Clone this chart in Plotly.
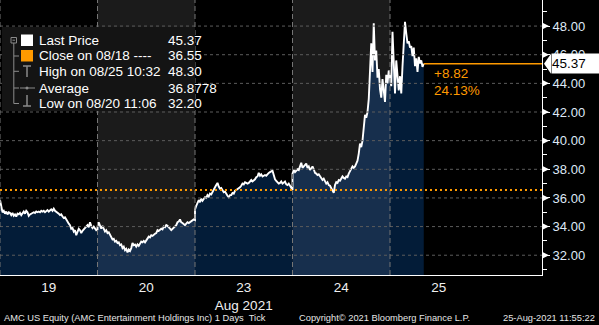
import plotly.graph_objects as go

# ---------------- data ----------------
day_labels = ["19", "20", "23", "24", "25"]
month_label = "Aug 2021"

# 5-minute samples of AMC tick price, session 09:30-16:00 (day 25 partial)
aug19 = [35.86, 35.3, 35.0, 35.1, 34.9, 35.05, 34.85, 35.0, 34.95, 34.8,
         34.95, 34.75, 34.85, 34.7, 34.9, 34.85, 34.95, 34.8, 34.9, 35.05,
         34.9, 35.1, 35.0, 34.75, 34.85, 34.9, 34.95, 35.0, 34.95, 35.05,
         35.0, 35.05, 35.0, 35.1, 35.05, 35.1, 35.0, 35.1, 35.15, 35.05,
         35.15, 35.2, 35.1, 35.25, 35.1, 35.05, 34.95, 34.9, 34.8, 34.85,
         34.7, 34.6, 34.65, 34.45, 34.35, 34.2, 34.1, 33.85, 33.9, 33.65,
         33.75, 33.4, 33.7, 33.85, 33.75, 33.55, 33.7, 33.8, 33.9, 34.0,
         34.1, 33.95, 34.3, 34.05, 33.9, 34.0, 33.85, 33.75, 33.8]
aug20 = [34.0, 34.3, 34.05, 33.85, 34.05, 33.8, 33.65, 33.75, 33.55, 33.6,
         33.4, 33.3, 33.1, 33.15, 32.95, 33.0, 32.85, 32.9, 32.7, 32.75,
         32.5, 32.6, 32.35, 32.45, 32.2, 32.4, 32.3, 32.5, 32.85, 32.7,
         32.75, 32.6, 32.75, 32.65, 32.8, 32.95, 32.9, 33.0, 32.9, 33.05,
         33.1, 33.3, 33.25, 33.4, 33.35, 33.45, 33.5, 33.55, 33.75, 33.7,
         33.8, 33.85, 33.8, 34.0, 33.95, 34.1, 34.05, 33.9, 33.85, 33.75,
         33.85, 33.9, 34.0, 34.1, 34.3, 34.35, 34.5, 34.3, 34.25, 34.2,
         34.1, 34.2, 34.3, 34.25, 34.3, 34.35, 34.4, 34.5, 34.45]
aug23 = [35.2, 35.45, 35.6, 35.85, 35.7, 35.95, 35.8, 35.95, 36.05, 36.0,
         36.2, 36.1, 36.3, 36.25, 36.45, 36.55, 36.75, 36.9, 37.05, 36.8,
         36.65, 36.7, 36.5, 36.4, 36.45, 36.25, 36.15, 36.05, 36.2, 36.2,
         36.35, 36.3, 36.5, 36.55, 36.6, 36.7, 36.75, 36.85, 37.0, 36.95,
         37.1, 37.05, 37.0, 37.05, 37.2, 37.25, 37.15, 37.2, 37.3, 37.45,
         37.5, 37.75, 37.55, 37.65, 37.5, 37.55, 37.6, 37.55, 37.7, 37.75,
         37.8, 37.85, 37.9, 37.6, 37.3, 37.2, 37.1, 37.0, 37.05, 37.15,
         37.0, 37.05, 37.15, 36.95, 36.9, 37.0, 36.85, 36.8, 36.55]
aug24 = [37.7, 37.95, 37.8, 37.9, 38.0, 37.95, 38.15, 38.45, 38.1, 38.2,
         38.3, 38.4, 38.1, 38.2, 37.95, 38.1, 38.2, 38.0, 37.75, 37.7,
         37.6, 37.65, 37.5, 37.35, 37.25, 37.35, 37.2, 37.0, 37.1, 36.9,
         36.85, 36.65, 36.55, 36.35, 36.9, 37.1, 37.05, 37.25, 37.2, 37.35,
         37.5, 37.4, 37.35, 37.5, 37.45, 37.7, 37.85, 37.95, 38.2, 38.1,
         38.2, 38.4, 38.6, 39.1, 39.8, 39.55, 40.0, 40.9, 41.8, 41.6,
         42.0, 42.9, 45.2, 46.8, 44.8, 48.2, 45.6, 46.3, 44.4, 45.0,
         43.6, 43.0, 44.3, 43.4, 42.7, 44.6, 44.0, 44.9, 44.2]
aug25 = [44.4, 43.8, 47.6, 45.2, 43.3, 45.6, 44.3, 43.5, 44.5, 43.3,
         45.2, 46.4, 48.3, 47.5, 46.8, 46.95, 46.5, 46.6, 45.9, 46.5,
         45.2, 45.75, 44.8, 45.85, 45.4, 45.6, 45.15, 45.37]
sessions = [aug19, aug20, aug23, aug24, aug25]
step_minutes = 5
session_minutes = 390

last_price = 45.37
prev_close = 36.55
change_abs = "+8.82"
change_pct = "24.13%"
y_ticks = [32, 34, 36, 38, 40, 42, 44, 46, 48]

legend_labels = ["Last Price", "Close on 08/18 ----", "High on 08/25 10:32",
                 "Average", "Low on 08/20 11:06"]
legend_values = ["45.37", "36.55", "48.30", "36.8778", "32.20"]

footer_left = "AMC US Equity (AMC Entertainment Holdings Inc) 1 Days  Tick"
footer_mid = "Copyright\u00a9 2021 Bloomberg Finance L.P."
footer_right = "25-Aug-2021 11:55:22"

# ---------------- style ----------------
W, H = 599, 325
ML, MR, MT, MB = 0, 57, 0, 50
PW, PH = W - ML - MR, H - MT - MB
X_MAX = 5.559
Y_MIN, Y_MAX = 30.62, 49.82
ORANGE = "#ff9a00"
DARK_FILL = "#031c38"
LIGHT_FILL = "#172f4d"
BAND = "#1b1b1b"
FONT = "Liberation Sans, Arial, sans-serif"
FOOT_SIZE = 9.3


def px(xp):
    return xp / PW


def py(yp):
    return 1 - yp / PH


fig = go.Figure()

all_x, all_y = [], []
for i, vals in enumerate(sessions):
    xs = [i + k * step_minutes / session_minutes for k in range(len(vals))]
    fig.add_trace(go.Scatter(x=xs, y=vals, mode="lines", line=dict(width=0),
                             fill="tozeroy",
                             fillcolor=LIGHT_FILL if i in (1, 3) else DARK_FILL,
                             hoverinfo="skip", showlegend=False))
    all_x += xs
    all_y += vals

fig.add_trace(go.Scatter(x=all_x, y=all_y, mode="lines",
                         line=dict(color="white", width=1.9),
                         showlegend=False))
last_x = all_x[-1]

shapes = []
for i in (1, 3):
    shapes.append(dict(type="rect", xref="x", yref="paper", x0=i, x1=i + 1,
                       y0=0, y1=1, fillcolor=BAND, line=dict(width=0),
                       layer="below"))
for v in y_ticks:
    shapes.append(dict(type="line", xref="paper", yref="y", x0=0, x1=1,
                       y0=v, y1=v, line=dict(color="#5c5c5c", width=1,
                                              dash="3px,3px"), layer="above"))
for i in range(len(sessions)):
    shapes.append(dict(type="line", xref="x", yref="paper", x0=i, x1=i,
                       y0=0, y1=1, line=dict(color="#757575", width=1,
                                              dash="5px,3px"), layer="above"))
shapes.append(dict(type="line", xref="paper", yref="y", x0=0, x1=1,
                   y0=prev_close, y1=prev_close,
                   line=dict(color=ORANGE, width=2, dash="2px,3px"),
                   layer="above"))
shapes.append(dict(type="line", xref="x", yref="y", x0=last_x, x1=X_MAX,
                   y0=last_price, y1=last_price,
                   line=dict(color=ORANGE, width=1.5), layer="above"))
# triangles on major y ticks
for v in y_ticks:
    shapes.append(dict(type="path", xref="paper", yref="y",
                       xsizemode="pixel", ysizemode="pixel",
                       xanchor=1, yanchor=v,
                       path="M 0,-3.5 L 7,0 L 0,3.5 Z",
                       fillcolor="white", line=dict(width=0)))
# last price label arrow
shapes.append(dict(type="path", xref="paper", yref="y",
                   xsizemode="pixel", ysizemode="pixel",
                   xanchor=1, yanchor=last_price,
                   path="M 2,0 L 9,10 L 9,-10 Z",
                   fillcolor="white", line=dict(width=0)))

# legend panel
shapes.append(dict(type="rect", xref="paper", yref="paper",
                   x0=px(2), x1=px(195), y0=py(27), y1=py(111),
                   fillcolor="#141414", line=dict(width=0), layer="above"))
GR = "#8a8a8a"
row_y = [40.7, 56.0, 71.3, 88.0, 103.5]
# tree lines
shapes.append(dict(type="rect", xref="paper", yref="paper",
                   x0=px(11), x1=px(16.5), y0=py(37.5), y1=py(43),
                   line=dict(color=GR, width=1), layer="above"))
shapes.append(dict(type="line", xref="paper", yref="paper",
                   x0=px(12.5), x1=px(15), y0=py(40.2), y1=py(40.2),
                   line=dict(color=GR, width=1), layer="above"))
shapes.append(dict(type="line", xref="paper", yref="paper",
                   x0=px(13.8), x1=px(13.8), y0=py(43), y1=py(row_y[4]),
                   line=dict(color=GR, width=1), layer="above"))
for ry in row_y[1:]:
    shapes.append(dict(type="line", xref="paper", yref="paper",
                       x0=px(13.8), x1=px(19), y0=py(ry), y1=py(ry),
                       line=dict(color=GR, width=1), layer="above"))
# colour squares
shapes.append(dict(type="rect", xref="paper", yref="paper",
                   x0=px(21), x1=px(33), y0=py(34.5), y1=py(46),
                   fillcolor="white", line=dict(width=0), layer="above"))
shapes.append(dict(type="rect", xref="paper", yref="paper",
                   x0=px(21), x1=px(33), y0=py(50), y1=py(61.5),
                   fillcolor=ORANGE, line=dict(width=0), layer="above"))
# high marker
shapes.append(dict(type="line", xref="paper", yref="paper",
                   x0=px(23), x1=px(31), y0=py(66), y1=py(66),
                   line=dict(color=GR, width=1.5), layer="above"))
shapes.append(dict(type="line", xref="paper", yref="paper",
                   x0=px(27), x1=px(27), y0=py(66), y1=py(77),
                   line=dict(color=GR, width=1.5), layer="above"))
# average marker
shapes.append(dict(type="line", xref="paper", yref="paper",
                   x0=px(20), x1=px(35), y0=py(88), y1=py(88),
                   line=dict(color=GR, width=1), layer="above"))
shapes.append(dict(type="circle", xref="paper", yref="paper",
                   x0=px(25.5), x1=px(28.5), y0=py(86.5), y1=py(89.5),
                   fillcolor=GR, line=dict(width=0), layer="above"))
# low marker
shapes.append(dict(type="line", xref="paper", yref="paper",
                   x0=px(27), x1=px(27), y0=py(95), y1=py(106),
                   line=dict(color=GR, width=1.5), layer="above"))
shapes.append(dict(type="line", xref="paper", yref="paper",
                   x0=px(23), x1=px(31), y0=py(106), y1=py(106),
                   line=dict(color=GR, width=1.5), layer="above"))

annotations = []
for lab, val, ry in zip(legend_labels, legend_values, row_y):
    annotations.append(dict(text=lab, xref="paper", yref="paper", x=px(37),
                            y=py(ry), xanchor="left", yanchor="middle",
                            showarrow=False,
                            font=dict(family=FONT, size=13.5, color="white")))
    annotations.append(dict(text=val, xref="paper", yref="paper", x=px(166),
                            y=py(ry), xanchor="left", yanchor="middle",
                            showarrow=False,
                            font=dict(family=FONT, size=13.5, color="white")))

annotations.append(dict(text=f"{last_price:.2f}", xref="paper", yref="y",
                        x=1, xshift=9, y=last_price, xanchor="left",
                        yanchor="middle", showarrow=False, bgcolor="white",
                        width=52, height=19, align="left", borderpad=0,
                        font=dict(family=FONT, size=13.5, color="black")))
annotations.append(dict(text=change_abs, xref="x", yref="y", x=last_x,
                        xshift=8, y=last_price, yshift=-10, xanchor="left",
                        yanchor="middle", showarrow=False,
                        font=dict(family=FONT, size=13.5, color=ORANGE)))
annotations.append(dict(text=change_pct, xref="x", yref="y", x=last_x,
                        xshift=8, y=last_price, yshift=-27, xanchor="left",
                        yanchor="middle", showarrow=False,
                        font=dict(family=FONT, size=13.5, color=ORANGE)))

fy = py(318 - MT)
annotations.append(dict(text=footer_left, xref="paper", yref="paper",
                        x=px(2), y=fy, xanchor="left", yanchor="middle",
                        showarrow=False,
                        font=dict(family=FONT, size=FOOT_SIZE, color="#e6e6e6")))
annotations.append(dict(text=footer_mid, xref="paper", yref="paper",
                        x=px(297), y=fy, xanchor="left", yanchor="middle",
                        showarrow=False,
                        font=dict(family=FONT, size=FOOT_SIZE, color="#e6e6e6")))
annotations.append(dict(text=footer_right, xref="paper", yref="paper",
                        x=px(597), y=fy, xanchor="right", yanchor="middle",
                        showarrow=False,
                        font=dict(family=FONT, size=FOOT_SIZE, color="#e6e6e6")))

tick_text = [d if d != "23" else f"{d}<br>{month_label}" for d in day_labels]

fig.update_layout(
    width=W, height=H,
    margin=dict(l=ML, r=MR, t=MT, b=MB, pad=0),
    paper_bgcolor="black", plot_bgcolor="black",
    showlegend=False,
    shapes=shapes, annotations=annotations,
    xaxis=dict(range=[0, X_MAX], tickvals=[i + 0.5 for i in range(len(day_labels))],
               ticktext=tick_text, showgrid=False, zeroline=False,
               showline=True, linecolor="white", linewidth=1,
               ticks="", tickfont=dict(family=FONT, size=13.5, color="#f0f0f0"),
               automargin=False, fixedrange=True),
    yaxis=dict(range=[Y_MIN, Y_MAX], side="right", tickvals=y_ticks,
               ticktext=[f"{v:.2f}" for v in y_ticks],
               showgrid=False, zeroline=False, showline=True,
               linecolor="white", linewidth=1,
               ticks="outside", ticklen=7, tickcolor="white",
               minor=dict(dtick=1, tick0=31, ticks="outside", ticklen=4,
                          tickcolor="white", showgrid=False),
               tickfont=dict(family=FONT, size=13, color="#dfe9f7"),
               automargin=False, fixedrange=True),
)

fig.write_html("out.html")
